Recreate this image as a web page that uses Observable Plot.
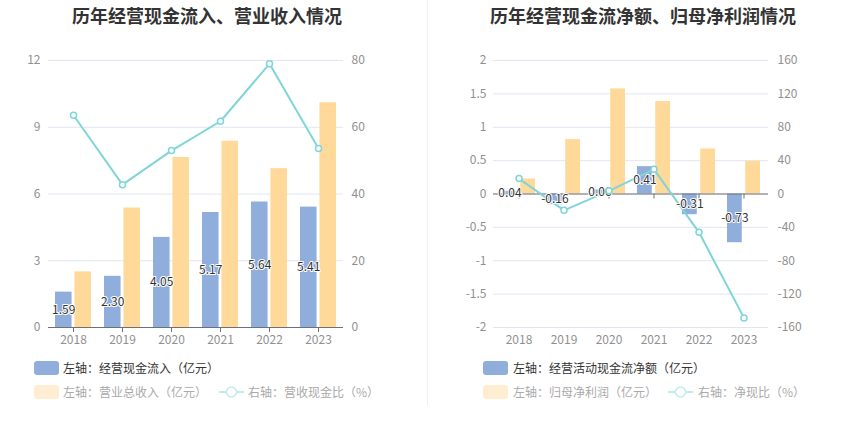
<!DOCTYPE html>
<html><head><meta charset="utf-8">
<script src="https://cdn.jsdelivr.net/npm/d3@7"></script>
<script src="https://cdn.jsdelivr.net/npm/@observablehq/plot@0.6"></script>
<style>
body{margin:0;background:#fff;font-family:'Noto Sans CJK SC','Noto Sans',sans-serif;}
#wrap{position:relative;width:850px;height:436px;overflow:hidden;background:#fff;}
.title{position:absolute;top:4px;font-size:18px;font-weight:bold;color:#333;white-space:nowrap;transform:translateX(-50%);line-height:22px;}
.chart{position:absolute;top:0;}
.leg{position:absolute;font-size:12px;white-space:nowrap;line-height:14px;}
.sw{position:absolute;width:25px;height:14px;border-radius:3px;}
.sep{position:absolute;left:427px;top:0;width:1px;height:405px;background:#eeeeee;}
</style>
</head><body>
<div id="wrap">
  <div class="title" style="left:207px">历年经营现金流入、营业收入情况</div>
  <div class="title" style="left:643px">历年经营现金流净额、归母净利润情况</div>
  <div class="sep"></div>
  <div id="c1" class="chart" style="left:0"></div>
  <div id="c2" class="chart" style="left:425px"></div>
</div>
<script>
const years = ["2018","2019","2020","2021","2022","2023"];
// left chart
const cashInflow = [1.59, 2.30, 4.05, 5.17, 5.64, 5.41];
const revenue = [2.50, 5.37, 7.64, 8.37, 7.14, 10.10];
const cashRatio = [63.6, 42.8, 53.0, 61.8, 79.0, 53.6];
const cashInflowLabels = ["1.59","2.30","4.05","5.17","5.64","5.41"];
const leftTicks = [0, 3, 6, 9, 12];
const leftRightTicks = [0, 20, 40, 60, 80];
// right chart
const netCashFlow = [0.04, -0.16, 0.06, 0.41, -0.31, -0.73];
const netProfit = [0.225, 0.815, 1.575, 1.385, 0.675, 0.49];
const netRatio = [18.5, -19.6, 3.8, 29.6, -45.9, -148.5];
const netCashLabels = ["0.04","-0.16","0.06","0.41","-0.31","-0.73"];
const rightTicks = [-2, -1.5, -1, -0.5, 0, 0.5, 1, 1.5, 2];
const rightRightTicks = [-160, -120, -80, -40, 0, 40, 80, 120, 160];

const BLUE = "#8FAEDB", ORANGE = "#FFD999", TEAL = "#7FD5D8", AXIS = "#6E7079";

function makeChart(o) {
  const W = 425, H = 360, mT = 60, mB = 33;
  const pi = 0.27, po = 0.135;
  const plotW = W - o.mL - o.mR;
  const step = plotW / (years.length - pi + 2 * po);
  const bw = step * (1 - pi);
  const inset = bw / 2 + 1.5;
  const k = o.yDomain[1] / o.y2Max;
  const data = years.map((y, i) => ({year: y, a: o.a[i], b: o.b[i], r: o.r[i] * k, lab: o.labels[i]}));
  return Plot.plot({
    width: W, height: H,
    marginLeft: o.mL, marginRight: o.mR, marginTop: mT, marginBottom: mB,
    style: {fontFamily: "'Noto Sans CJK SC','Noto Sans',sans-serif", fontSize: "12px", color: "#909090", background: "transparent", overflow: "visible"},
    x: {type: "band", domain: years, paddingInner: pi, paddingOuter: po, label: null},
    y: {domain: o.yDomain, label: null},
    marks: [
      Plot.gridY(o.yTicks, {stroke: "#E0E6F1", strokeOpacity: 1}),
      Plot.axisY(o.yTicks, {anchor: "left", tickSize: 0, tickPadding: o.tpL, label: null, tickFormat: d => String(d)}),
      Plot.axisY(o.y2Ticks.map(v => v * k), {anchor: "right", tickSize: 0, tickPadding: o.tpR, label: null, tickFormat: d => String(Math.round(d / k))}),
      Plot.axisX({anchor: "bottom", tickSize: 0, tickPadding: 8, label: null}),
      Plot.barY(data, {x: "year", y: "a", fill: BLUE, insetRight: inset}),
      Plot.barY(data, {x: "year", y: "b", fill: ORANGE, insetLeft: inset}),
      Plot.ruleY([0], {stroke: AXIS}),
      Plot.ruleX(data, {x: "year", y1: 0, y2: 0, insetBottom: -5, stroke: AXIS}),
      Plot.line(data, {x: "year", y: "r", stroke: TEAL, strokeWidth: 2}),
      Plot.text(data, {x: "year", y: d => d.a / 2, text: "lab", dx: -(bw / 4 + 0.75), fill: "#333", stroke: "white", strokeWidth: 2, paintOrder: "stroke", fontSize: 12}),
      Plot.dot(data, {x: "year", y: "r", r: 3, fill: "white", stroke: TEAL, strokeWidth: 1.5})
    ]
  });
}

document.getElementById("c1").appendChild(makeChart({
  mL: 48, mR: 82, tpL: 8, tpR: 8,
  yDomain: [0, 12], yTicks: leftTicks, y2Ticks: leftRightTicks, y2Max: 80,
  a: cashInflow, b: revenue, r: cashRatio, labels: cashInflowLabels
}));
document.getElementById("c2").appendChild(makeChart({
  mL: 68, mR: 82, tpL: 7, tpR: 9,
  yDomain: [-2, 2], yTicks: rightTicks, y2Ticks: rightRightTicks, y2Max: 160,
  a: netCashFlow, b: netProfit, r: netRatio, labels: netCashLabels
}));

// legends
const wrap = document.getElementById("wrap");
function addSwatch(x, y, color) {
  const d = document.createElement("div");
  d.className = "sw"; d.style.left = x + "px"; d.style.top = y + "px"; d.style.background = color;
  wrap.appendChild(d);
}
function addText(x, y, text, color) {
  const d = document.createElement("div");
  d.className = "leg"; d.style.left = x + "px"; d.style.top = y + "px"; d.style.color = color;
  d.textContent = text; wrap.appendChild(d);
}
function addLineIcon(x, y, color) {
  const ns = "http://www.w3.org/2000/svg";
  const s = document.createElementNS(ns, "svg");
  s.setAttribute("width", 25); s.setAttribute("height", 14);
  s.style.position = "absolute"; s.style.left = x + "px"; s.style.top = y + "px";
  s.innerHTML = `<line x1="0" y1="7" x2="25" y2="7" stroke="${color}" stroke-width="2"/><circle cx="12.5" cy="7" r="5" fill="white" stroke="${color}" stroke-width="1.5"/>`;
  wrap.appendChild(s);
}
const FADE_SW = "#FFEDD1", FADE_TX = "#aaaaaa", FADE_LN = "#BEEBED";
addSwatch(34, 361, BLUE); addText(63, 361, "左轴：经营现金流入（亿元）", "#333");
addSwatch(34, 385, FADE_SW); addText(63, 385, "左轴：营业总收入（亿元）", FADE_TX);
addLineIcon(219, 385, FADE_LN); addText(248, 385, "右轴：营收现金比（%）", FADE_TX);
addSwatch(483, 361, BLUE); addText(513, 361, "左轴：经营活动现金流净额（亿元）", "#333");
addSwatch(483, 385, FADE_SW); addText(513, 385, "左轴：归母净利润（亿元）", FADE_TX);
addLineIcon(668, 385, FADE_LN); addText(698, 385, "右轴：净现比（%）", FADE_TX);
</script>
</body></html>
